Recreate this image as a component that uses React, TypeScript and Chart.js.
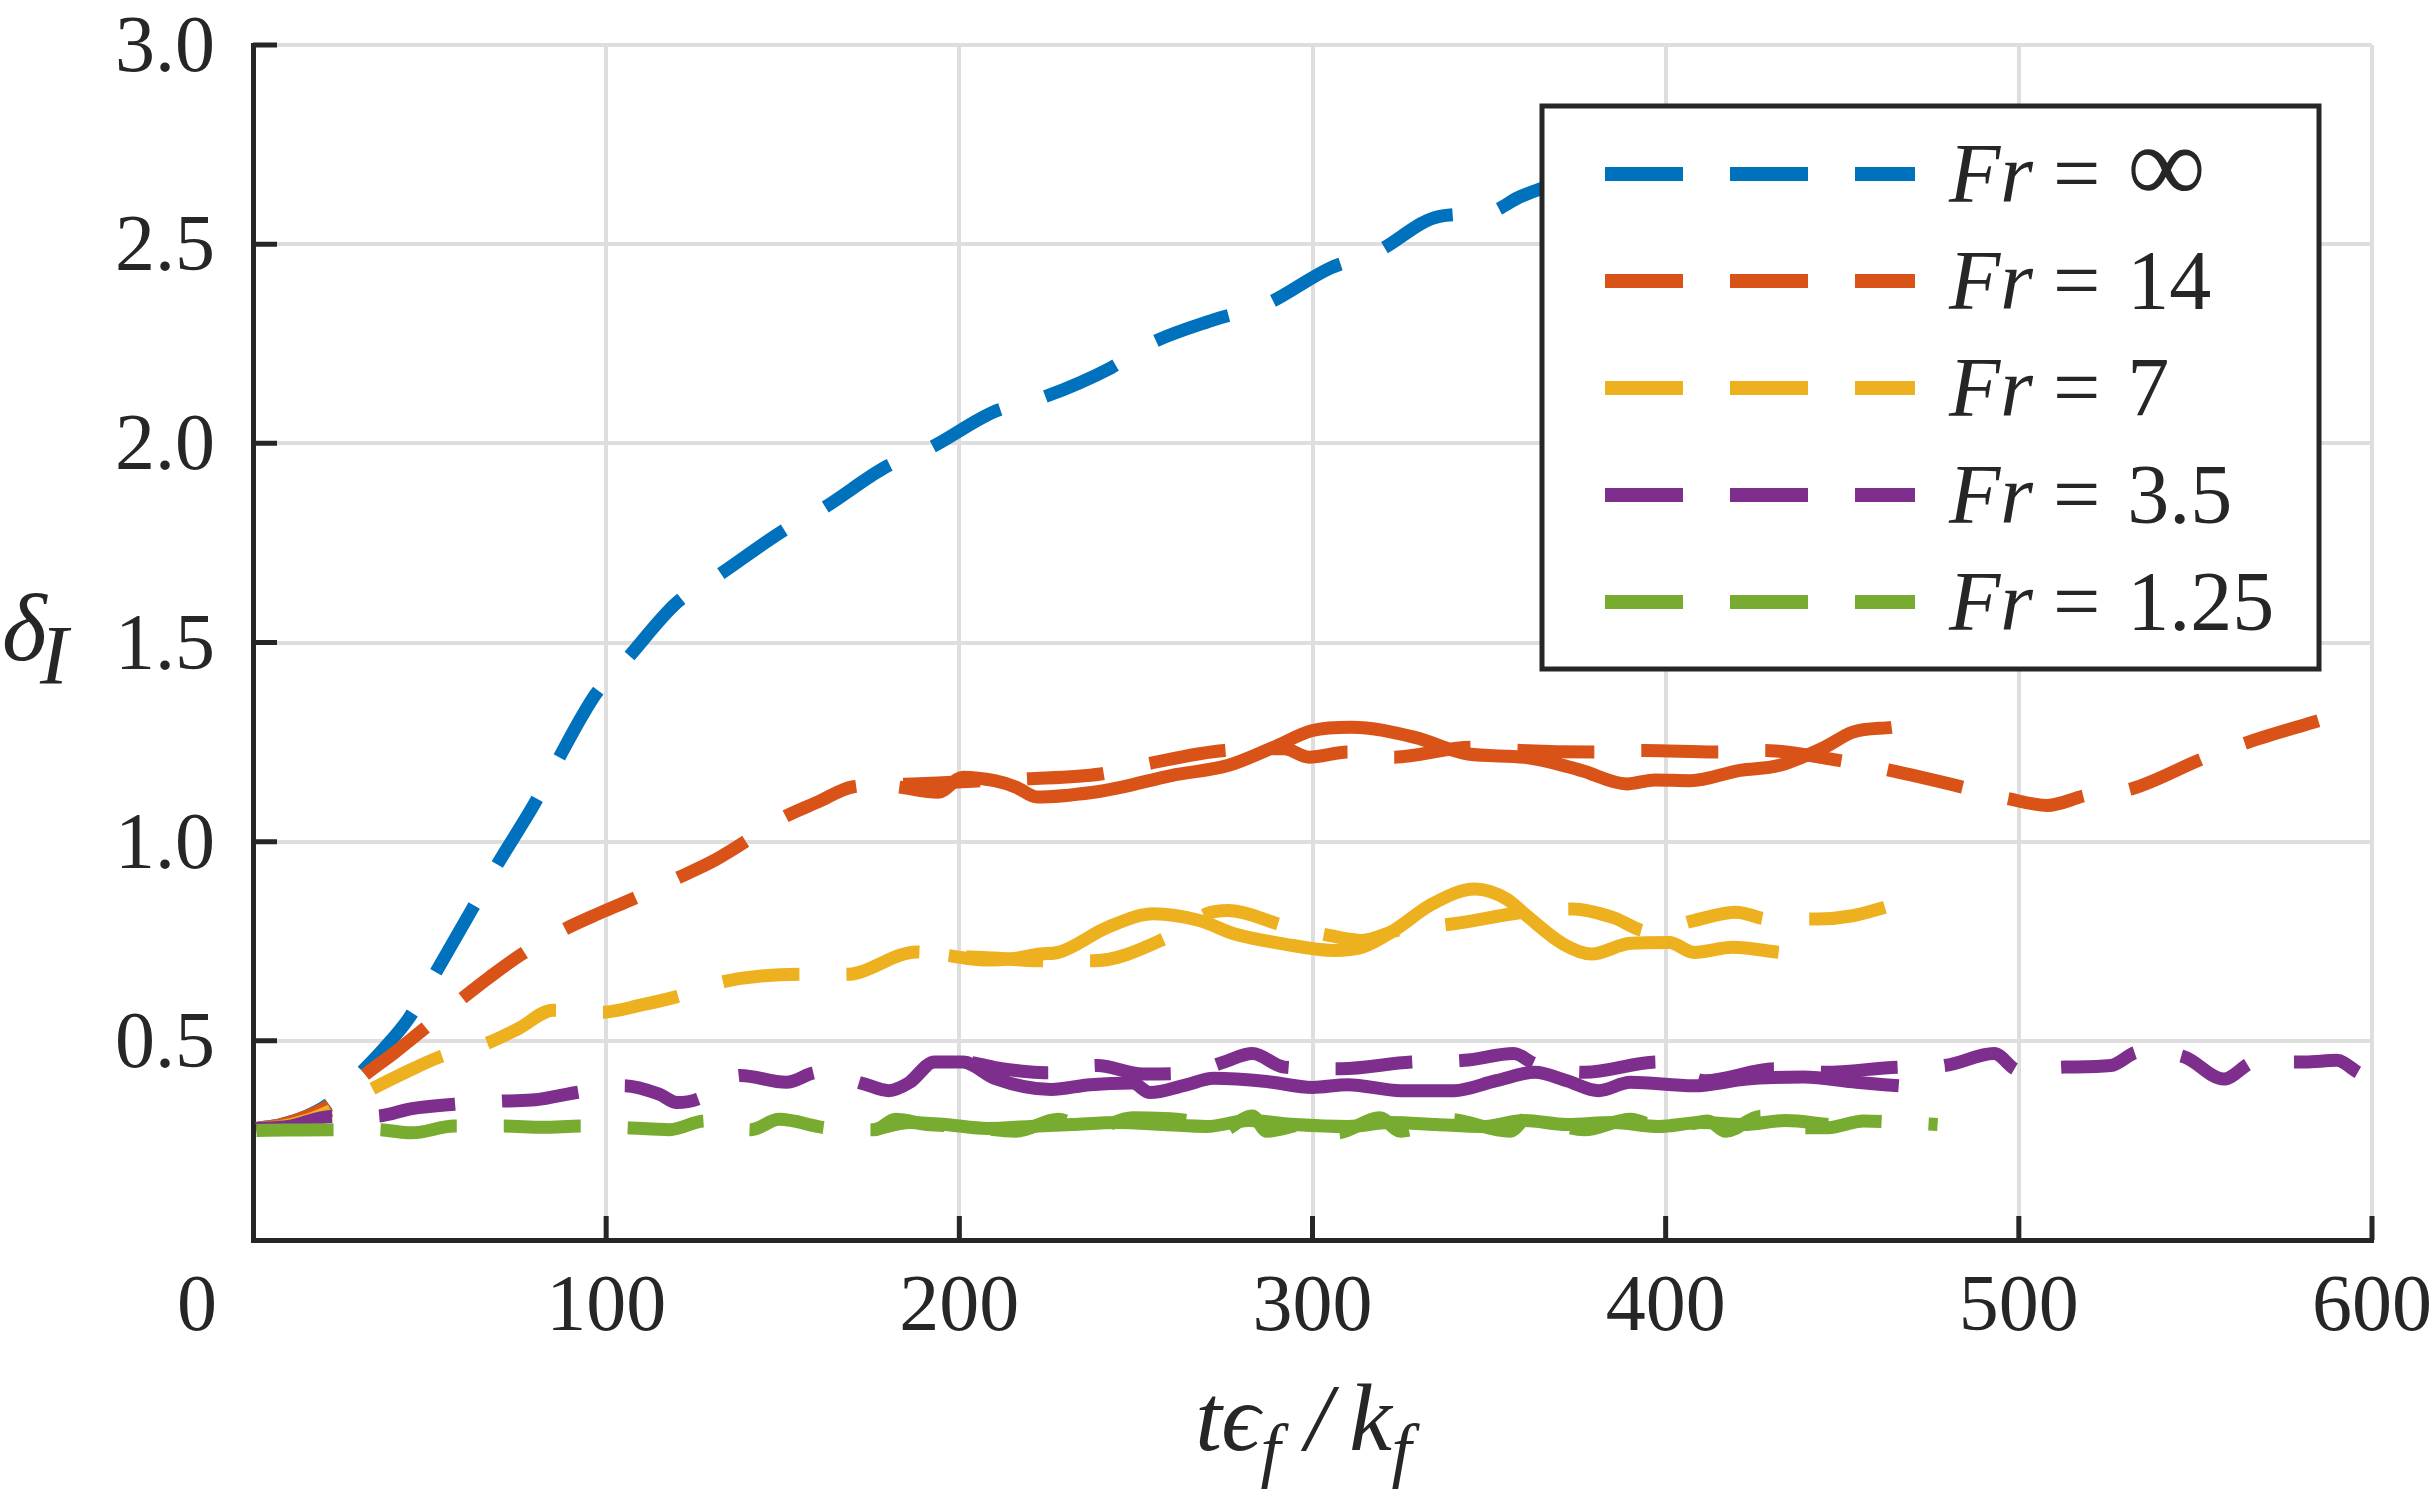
import { useEffect, useRef } from "react"
import { Chart, registerables } from "chart.js"

Chart.register(...registerables)

const W = 2432
const H = 1507
const FONT = "'Liberation Serif', 'Times New Roman', serif"
const INK = "#262626"

// Fr = infinity (dashed)
const blueT = [1, 8, 15, 22, 30, 37, 44, 51, 62, 69, 80, 86, 97, 106, 120, 132, 150, 162, 179, 192, 210, 222, 243, 254, 272, 287, 305, 318, 336, 350, 359, 380, 410, 450]
const blueV = [0.28, 0.29, 0.31, 0.345, 0.415, 0.48, 0.555, 0.66, 0.83, 0.94, 1.1, 1.2, 1.37, 1.46, 1.6, 1.67, 1.78, 1.84, 1.94, 1.99, 2.08, 2.11, 2.19, 2.25, 2.31, 2.35, 2.44, 2.48, 2.57, 2.58, 2.62, 2.68, 2.74, 2.78]

// Fr = 14
const orangeDashT = [1, 8, 15, 22, 31, 40, 48, 59, 67, 76, 88, 98, 108, 120, 130, 139, 150, 160, 170, 184, 198, 210, 219, 240, 253, 275, 292, 299, 310, 323, 345, 359, 380, 394, 414, 428, 449, 463, 484, 497, 508, 519, 532, 552, 565, 585]
const orangeDashV = [0.28, 0.29, 0.31, 0.34, 0.41, 0.47, 0.527, 0.605, 0.66, 0.717, 0.779, 0.82, 0.858, 0.908, 0.95, 0.998, 1.06, 1.1, 1.138, 1.144, 1.149, 1.155, 1.158, 1.17, 1.195, 1.229, 1.233, 1.212, 1.225, 1.212, 1.237, 1.229, 1.225, 1.229, 1.225, 1.229, 1.204, 1.18, 1.137, 1.108, 1.091, 1.116, 1.133, 1.208, 1.25, 1.304]
const orangeSolidT = [183, 194, 201, 210, 216, 222, 238, 246, 260, 276, 289, 300, 311, 329, 344, 360, 376, 389, 397, 407, 421, 432, 445, 453, 464]
const orangeSolidV = [1.137, 1.124, 1.162, 1.153, 1.137, 1.112, 1.124, 1.137, 1.166, 1.191, 1.237, 1.279, 1.287, 1.262, 1.22, 1.212, 1.179, 1.145, 1.155, 1.153, 1.179, 1.191, 1.237, 1.275, 1.287]

// Fr = 7
const yellowDashT = [1, 8, 15, 22, 33, 43, 53, 66, 75, 85, 99, 110, 120, 134, 155, 168, 188, 197, 210, 223, 238, 258, 270, 276, 292, 305, 314, 324, 340, 360, 374, 385, 395, 408, 420, 429, 443, 453, 464]
const yellowDashV = [0.28, 0.285, 0.3, 0.325, 0.376, 0.42, 0.46, 0.493, 0.53, 0.577, 0.572, 0.59, 0.611, 0.65, 0.667, 0.667, 0.723, 0.714, 0.708, 0.701, 0.701, 0.756, 0.819, 0.827, 0.789, 0.764, 0.752, 0.777, 0.794, 0.823, 0.831, 0.81, 0.775, 0.802, 0.823, 0.806, 0.806, 0.814, 0.84]
const yellowSolidT = [197, 207, 215, 223, 228, 242, 255, 268, 278, 292, 306, 314, 323, 334, 346, 355, 360, 371, 379, 390, 401, 408, 419, 432]
const yellowSolidV = [0.714, 0.703, 0.706, 0.718, 0.722, 0.785, 0.819, 0.802, 0.768, 0.743, 0.727, 0.735, 0.777, 0.844, 0.881, 0.856, 0.819, 0.743, 0.718, 0.745, 0.747, 0.722, 0.735, 0.722]

// Fr = 3.5
const purpleDashT = [1, 10, 22, 35, 45, 57, 71, 80, 92, 105, 115, 120, 126, 138, 151, 160, 173, 180, 186, 193, 201, 212, 225, 239, 252, 265, 275, 283, 292, 308, 328, 343, 357, 363, 377, 398, 411, 431, 445, 466, 479, 493, 500, 513, 526, 534, 547, 558, 567, 581, 590, 596]
const purpleDashV = [0.28, 0.285, 0.31, 0.311, 0.33, 0.341, 0.349, 0.352, 0.371, 0.387, 0.366, 0.345, 0.354, 0.413, 0.396, 0.421, 0.392, 0.375, 0.396, 0.447, 0.447, 0.43, 0.42, 0.438, 0.417, 0.42, 0.447, 0.468, 0.434, 0.43, 0.447, 0.451, 0.468, 0.442, 0.421, 0.447, 0.4, 0.43, 0.421, 0.434, 0.438, 0.468, 0.426, 0.434, 0.438, 0.472, 0.459, 0.404, 0.447, 0.447, 0.451, 0.421]
const purpleSolidT = [186, 193, 201, 210, 226, 237, 249, 254, 264, 272, 287, 300, 310, 325, 340, 352, 363, 372, 381, 390, 408, 423, 439, 454, 466]
const purpleSolidV = [0.396, 0.447, 0.447, 0.406, 0.378, 0.39, 0.394, 0.37, 0.389, 0.406, 0.398, 0.383, 0.39, 0.375, 0.375, 0.4, 0.421, 0.4, 0.375, 0.396, 0.387, 0.404, 0.409, 0.396, 0.387]

// Fr = 1.25
const greenDashT = [1, 10, 22, 35, 45, 57, 71, 82, 93, 106, 118, 128, 141, 149, 162, 176, 182, 191, 201, 216, 228, 237, 249, 268, 273, 283, 287, 300, 307, 319, 325, 338, 356, 361, 377, 390, 400, 412, 417, 427, 437, 446, 456, 467, 477]
const greenDashV = [0.275, 0.276, 0.277, 0.277, 0.269, 0.286, 0.286, 0.283, 0.286, 0.282, 0.277, 0.299, 0.277, 0.303, 0.282, 0.277, 0.303, 0.29, 0.286, 0.273, 0.303, 0.277, 0.307, 0.294, 0.269, 0.311, 0.273, 0.294, 0.269, 0.307, 0.273, 0.303, 0.273, 0.307, 0.277, 0.303, 0.277, 0.299, 0.273, 0.311, 0.282, 0.282, 0.299, 0.295, 0.29]
const greenSolidT = [176, 186, 196, 208, 220, 232, 245, 258, 270, 282, 295, 310, 322, 335, 348, 360, 372, 385, 398, 410, 422, 434, 446]
const greenSolidV = [0.277, 0.295, 0.29, 0.28, 0.285, 0.29, 0.295, 0.29, 0.285, 0.3, 0.29, 0.285, 0.295, 0.29, 0.285, 0.3, 0.29, 0.295, 0.285, 0.295, 0.29, 0.3, 0.29]

const xTicks = [0, 100, 200, 300, 400, 500, 600]
const yTicks = [0, 0.5, 1, 1.5, 2, 2.5, 3]
const xTickLabels = ["0", "100", "200", "300", "400", "500", "600"]
const yTickLabels = ["", "0.5", "1.0", "1.5", "2.0", "2.5", "3.0"]
const legendValues = ["\u221E", "14", "7", "3.5", "1.25"]
const colors = ["#0072BD", "#D95319", "#EDB120", "#7E2F8E", "#77AC30"]

const pts = (t: number[], v: number[]) => t.map((x, i) => ({ x, y: v[i] }))

const series = [
  { t: blueT, v: blueV, c: 0, dashed: true },
  { t: orangeDashT, v: orangeDashV, c: 1, dashed: true },
  { t: orangeSolidT, v: orangeSolidV, c: 1, dashed: false },
  { t: yellowDashT, v: yellowDashV, c: 2, dashed: true },
  { t: yellowSolidT, v: yellowSolidV, c: 2, dashed: false },
  { t: purpleDashT, v: purpleDashV, c: 3, dashed: true },
  { t: purpleSolidT, v: purpleSolidV, c: 3, dashed: false },
  { t: greenDashT, v: greenDashV, c: 4, dashed: true },
  { t: greenSolidT, v: greenSolidV, c: 4, dashed: false },
]

const decorations = {
  id: "decorations",
  afterDraw(chart: Chart) {
    const { ctx, chartArea: a } = chart
    const xs = chart.scales.x
    const ys = chart.scales.y
    ctx.save()

    // inward tick marks
    ctx.strokeStyle = INK
    ctx.lineWidth = 5
    ctx.beginPath()
    yTicks.forEach((v) => {
      if (v === 0) return
      const y = ys.getPixelForValue(v)
      ctx.moveTo(a.left, y)
      ctx.lineTo(a.left + 24, y)
    })
    xTicks.forEach((v) => {
      if (v === 0) return
      const x = xs.getPixelForValue(v)
      ctx.moveTo(x, a.bottom)
      ctx.lineTo(x, a.bottom - 24)
    })
    ctx.stroke()

    // tick labels
    ctx.fillStyle = INK
    ctx.font = `80px ${FONT}`
    ctx.textBaseline = "alphabetic"
    ctx.textAlign = "right"
    yTicks.forEach((v, i) => {
      ctx.fillText(yTickLabels[i], a.left - 38, ys.getPixelForValue(v) + 26)
    })
    xTicks.forEach((v, i) => {
      if (v === 0) {
        // the origin label sits under the y labels
        ctx.textAlign = "right"
        ctx.fillText(xTickLabels[i], a.left - 36, a.bottom + 90)
        return
      }
      ctx.textAlign = "center"
      ctx.fillText(xTickLabels[i], xs.getPixelForValue(v), a.bottom + 90)
    })

    // y title: delta_I
    ctx.textAlign = "left"
    ctx.font = `italic 96px ${FONT}`
    ctx.fillText("\u03B4", 2, 660)
    ctx.font = `italic 84px ${FONT}`
    ctx.fillText("I", 40, 684)

    // x title: t eps_f / k_f, glyphs centred on offsets from the axis centre
    const main = `italic 96px ${FONT}`
    const sub = `italic 72px ${FONT}`
    const cx = (a.left + a.right) / 2
    const base = a.bottom + 210
    const parts: [string, string, number, number][] = [
      ["t", main, -104, 0],
      ["\u03F5", main, -72, 0],
      ["f", sub, -42, 24],
      ["/", main, 6, 0],
      ["k", main, 58, 0],
      ["f", sub, 89, 24],
    ]
    ctx.textAlign = "center"
    parts.forEach(([s, f, dx, dy]) => {
      ctx.font = f
      ctx.fillText(s, cx + dx, base + dy)
    })
    ctx.textAlign = "left"

    // legend box
    const bx = a.right - 830
    const by = a.top + 61
    const bw = 777
    const bh = 563
    ctx.fillStyle = "#ffffff"
    ctx.fillRect(bx, by, bw, bh)
    ctx.strokeStyle = INK
    ctx.lineWidth = 5
    ctx.strokeRect(bx, by, bw, bh)

    legendValues.forEach((val, i) => {
      const cy = by + 68 + i * 107
      ctx.strokeStyle = colors[i]
      ctx.lineWidth = 14
      ctx.setLineDash([78, 47])
      ctx.beginPath()
      ctx.moveTo(bx + 63, cy)
      ctx.lineTo(bx + 373, cy)
      ctx.stroke()
      ctx.setLineDash([])

      ctx.fillStyle = INK
      let tx = bx + 407
      const tb = cy + 28
      ctx.font = `italic 84px ${FONT}`
      ctx.fillText("Fr", tx, tb)
      tx += ctx.measureText("Fr").width + 20
      ctx.font = `84px ${FONT}`
      ctx.fillText("=", tx, tb)
      tx += ctx.measureText("=").width + 27
      // the infinity sign is set larger in the original
      ctx.font = val === "\u221E" ? `110px ${FONT}` : `84px ${FONT}`
      ctx.fillText(val, tx, tb)
    })

    ctx.restore()
  },
}

export default function App() {
  const canvasRef = useRef<HTMLCanvasElement>(null)
  const chartRef = useRef<Chart | null>(null)

  useEffect(() => {
    document.body.style.margin = "0"
    if (!canvasRef.current) return
    const ctx = canvasRef.current.getContext("2d")
    if (!ctx) return

    if (chartRef.current) chartRef.current.destroy()

    chartRef.current = new Chart(ctx, {
      type: "line",
      data: {
        datasets: series.map((s, i) => ({
          data: pts(s.t, s.v),
          borderColor: colors[s.c],
          borderWidth: 13,
          borderDash: s.dashed ? [77, 47] : [],
          borderJoinStyle: "round",
          pointRadius: 0,
          cubicInterpolationMode: "monotone",
          fill: false,
          order: series.length - i,
        })),
      },
      plugins: [decorations],
      options: {
        animation: false,
        responsive: false,
        devicePixelRatio: 1,
        layout: { padding: { top: 45, right: 60, left: 0, bottom: 0 } },
        plugins: {
          legend: { display: false },
          tooltip: { enabled: false },
        },
        scales: {
          x: {
            type: "linear",
            min: 0,
            max: 600,
            afterFit: (s) => {
              s.height = H - 1240
            },
            ticks: { stepSize: 100, display: false },
            grid: { color: "#dedede", lineWidth: 4, drawTicks: false },
            border: { color: INK, width: 5 },
          },
          y: {
            type: "linear",
            min: 0,
            max: 3,
            afterFit: (s) => {
              s.width = 253
            },
            ticks: { stepSize: 0.5, display: false },
            grid: { color: "#dedede", lineWidth: 4, drawTicks: false },
            border: { color: INK, width: 5 },
          },
        },
      },
    })

    return () => {
      if (chartRef.current) {
        chartRef.current.destroy()
        chartRef.current = null
      }
    }
  }, [])

  return (
    <div style={{ width: W, height: H, background: "#fff" }}>
      <canvas ref={canvasRef} width={W} height={H} style={{ display: "block" }}></canvas>
    </div>
  )
}
